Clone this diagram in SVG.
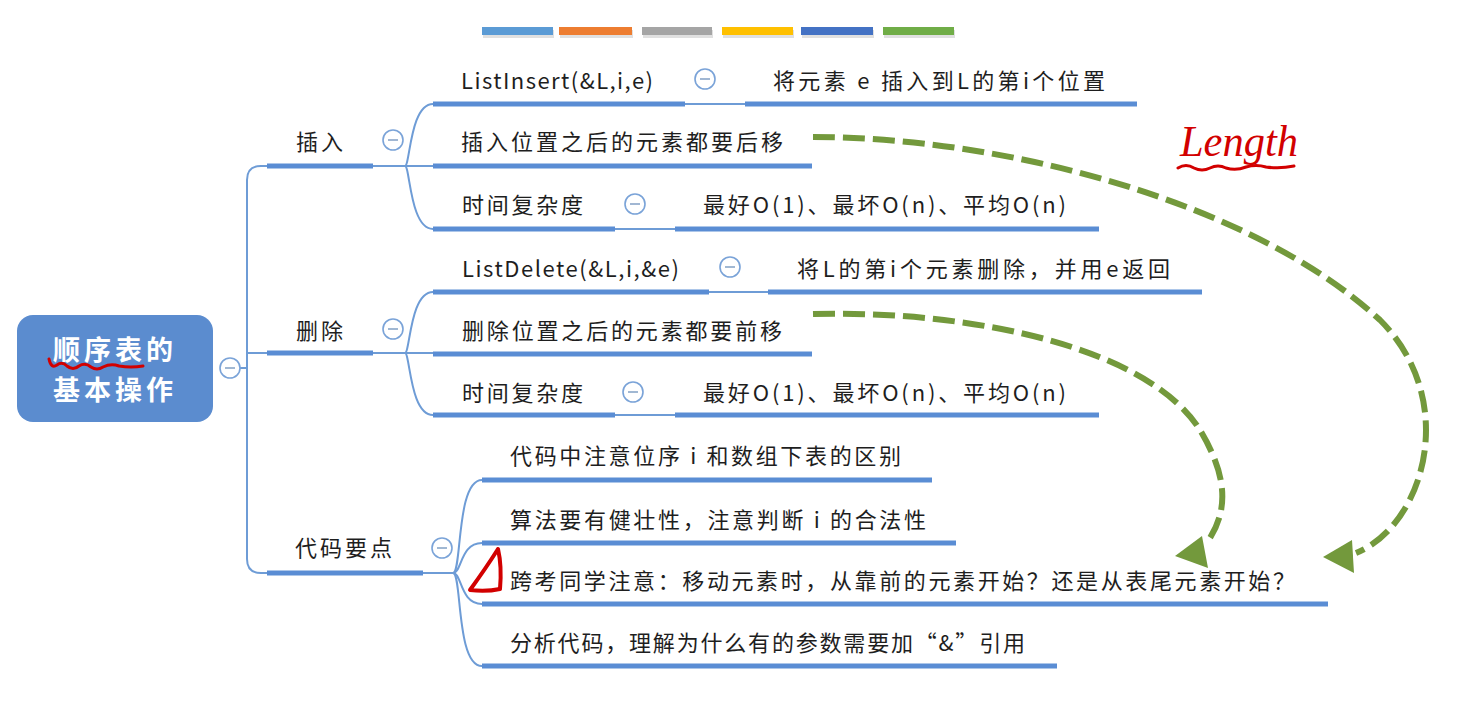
<svg xmlns="http://www.w3.org/2000/svg" width="1461" height="714" viewBox="0 0 1461 714">
<style>
.t{font-family:"Noto Sans CJK SC","Liberation Sans",sans-serif;font-size:22px;fill:#1e1e1e}
.ul{stroke:#5a8dd4;stroke-width:5;fill:none}
.cn{stroke:#6e9cd6;stroke-width:2;fill:none}
.cc{fill:#fff;stroke:#7aa3d8;stroke-width:1.6}
.cm{stroke:#8aa6c8;stroke-width:1.6}
.sh{fill:#000;opacity:0.12}
.ar{fill:none;stroke:#73993c;stroke-width:6;stroke-dasharray:22 8}
.ah{fill:#73993c}
.red{fill:none;stroke:#d20000;stroke-width:3;stroke-linecap:round;stroke-linejoin:round}
.rt{font-family:"Noto Sans CJK SC",sans-serif;font-size:27px;font-weight:bold;fill:#fff}
</style>
<rect width="1461" height="714" fill="#fff"/>
<g id="colorbar">
<rect class="sh" x="483" y="30" width="71" height="8"/>
<rect class="sh" x="560" y="30" width="73" height="8"/>
<rect class="sh" x="643" y="30" width="70" height="8"/>
<rect class="sh" x="723" y="30" width="71" height="8"/>
<rect class="sh" x="802" y="30" width="72" height="8"/>
<rect class="sh" x="884" y="30" width="71" height="8"/>
<rect x="482" y="27" width="71" height="8" fill="#5b9bd5"/>
<rect x="559" y="27" width="73" height="8" fill="#ed7d31"/>
<rect x="642" y="27" width="70" height="8" fill="#a5a5a5"/>
<rect x="722" y="27" width="71" height="8" fill="#ffc000"/>
<rect x="801" y="27" width="72" height="8" fill="#4472c4"/>
<rect x="883" y="27" width="71" height="8" fill="#70ad47"/>
</g>
<g id="connectors">
<path class="cn" d="M240,368 H247"/>
<path class="cn" d="M268,166 H261 Q247,166 247,180 V559 Q247,573 261,573 H268"/>
<path class="cn" d="M247,353 H268"/>
<path class="cn" d="M373,166 H405"/>
<path class="cn" d="M405,166 C410,166 410,104 433,104"/>
<path class="cn" d="M405,166 H433"/>
<path class="cn" d="M405,166 C410,166 410,229 433,229"/>
<path class="cn" d="M685,104 H745"/>
<path class="cn" d="M615,229 H675"/>
<path class="cn" d="M373,353 H405"/>
<path class="cn" d="M405,353 C410,353 410,292 433,292"/>
<path class="cn" d="M405,353 H433"/>
<path class="cn" d="M405,353 C410,353 410,415 433,415"/>
<path class="cn" d="M709,292 H768"/>
<path class="cn" d="M615,415 H675"/>
<path class="cn" d="M423,573 H453"/>
<path class="cn" d="M453,573 C462,573 456,480 482,480"/>
<path class="cn" d="M453,573 C462,573 460,543 482,543"/>
<path class="cn" d="M453,573 C462,573 460,604 482,604"/>
<path class="cn" d="M453,573 C462,573 456,666 482,666"/>
<path class="ar" d="M813,137 C1000,137 1250,200 1380,320 C1460,400 1425,525 1356,553"/>
<polygon class="ah" points="1323,557 1352,540 1354,573"/>
<path class="ar" d="M813,314 C980,310 1150,350 1200,430 C1230,480 1226,512 1210,538"/>
<polygon class="ah" points="1175,556 1202,536 1208,568"/>
</g>
<g id="root">
<rect x="17" y="315" width="196" height="107" rx="16" fill="#5b8ccf"/>
<text class="rt" x="113" y="360" text-anchor="middle" textLength="120" lengthAdjust="spacing">顺序表的</text>
<text class="rt" x="113" y="400" text-anchor="middle" textLength="120" lengthAdjust="spacing">基本操作</text>
<path class="red" d="M49,359 q2,10 8,6 q5,-4 10,1 q6,5 12,0 q6,-4 12,1 q6,4 12,0 q8,-4 16,-1 q12,2 24,0"/>
<circle class="cc" cx="230" cy="368" r="10"/><line class="cm" x1="225" y1="368" x2="235" y2="368"/>
</g>
<g id="n-insert">
<line class="ul" x1="267" y1="166" x2="373" y2="166"/>
<text class="t" x="296" y="150" textLength="47" lengthAdjust="spacing">插入</text>
<circle class="cc" cx="393" cy="140" r="10"/><line class="cm" x1="388" y1="140" x2="398" y2="140"/>
</g>
<g id="n-listinsert">
<line class="ul" x1="433" y1="104" x2="685" y2="104"/>
<text class="t" x="461" y="89" textLength="192" lengthAdjust="spacing">ListInsert(&amp;L,i,e)</text>
<circle class="cc" cx="705" cy="79" r="10"/><line class="cm" x1="700" y1="79" x2="710" y2="79"/>
</g>
<g id="n-insert-desc">
<line class="ul" x1="745" y1="104" x2="1137" y2="104"/>
<text class="t" x="773" y="89" textLength="332" lengthAdjust="spacing">将元素 e 插入到L的第i个位置</text>
</g>
<g id="n-insert-shift">
<line class="ul" x1="433" y1="166" x2="812" y2="166"/>
<text class="t" x="461" y="150" textLength="322" lengthAdjust="spacing">插入位置之后的元素都要后移</text>
</g>
<g id="n-insert-time">
<line class="ul" x1="433" y1="229" x2="615" y2="229"/>
<text class="t" x="462" y="213" textLength="121" lengthAdjust="spacing">时间复杂度</text>
<circle class="cc" cx="635" cy="204" r="10"/><line class="cm" x1="630" y1="204" x2="640" y2="204"/>
</g>
<g id="n-insert-time-val">
<line class="ul" x1="675" y1="229" x2="1099" y2="229"/>
<text class="t" x="703" y="213" textLength="363" lengthAdjust="spacing">最好O(1)、最坏O(n)、平均O(n)</text>
</g>
<g id="n-delete">
<line class="ul" x1="267" y1="353" x2="373" y2="353"/>
<text class="t" x="296" y="339" textLength="47" lengthAdjust="spacing">删除</text>
<circle class="cc" cx="393" cy="329" r="10"/><line class="cm" x1="388" y1="329" x2="398" y2="329"/>
</g>
<g id="n-listdelete">
<line class="ul" x1="433" y1="292" x2="709" y2="292"/>
<text class="t" x="462" y="277" textLength="217" lengthAdjust="spacing">ListDelete(&amp;L,i,&amp;e)</text>
<circle class="cc" cx="730" cy="267" r="10"/><line class="cm" x1="725" y1="267" x2="735" y2="267"/>
</g>
<g id="n-delete-desc">
<line class="ul" x1="768" y1="292" x2="1202" y2="292"/>
<text class="t" x="797" y="277" textLength="373" lengthAdjust="spacing">将L的第i个元素删除，并用e返回</text>
</g>
<g id="n-delete-shift">
<line class="ul" x1="433" y1="354" x2="812" y2="354"/>
<text class="t" x="462" y="339" textLength="320" lengthAdjust="spacing">删除位置之后的元素都要前移</text>
</g>
<g id="n-delete-time">
<line class="ul" x1="433" y1="415" x2="615" y2="415"/>
<text class="t" x="462" y="401" textLength="121" lengthAdjust="spacing">时间复杂度</text>
<circle class="cc" cx="633" cy="392" r="10"/><line class="cm" x1="628" y1="392" x2="638" y2="392"/>
</g>
<g id="n-delete-time-val">
<line class="ul" x1="675" y1="415" x2="1099" y2="415"/>
<text class="t" x="703" y="401" textLength="363" lengthAdjust="spacing">最好O(1)、最坏O(n)、平均O(n)</text>
</g>
<g id="n-code">
<line class="ul" x1="267" y1="573" x2="423" y2="573"/>
<text class="t" x="295" y="556" textLength="97" lengthAdjust="spacing">代码要点</text>
<circle class="cc" cx="442" cy="548" r="10"/><line class="cm" x1="437" y1="548" x2="447" y2="548"/>
</g>
<g id="n-code-1">
<line class="ul" x1="482" y1="480" x2="932" y2="480"/>
<text class="t" x="510" y="464" textLength="391" lengthAdjust="spacing">代码中注意位序 i 和数组下表的区别</text>
</g>
<g id="n-code-2">
<line class="ul" x1="482" y1="543" x2="956" y2="543"/>
<text class="t" x="510" y="528" textLength="416" lengthAdjust="spacing">算法要有健壮性，注意判断 i 的合法性</text>
</g>
<g id="n-code-3">
<line class="ul" x1="482" y1="604" x2="1328" y2="604"/>
<text class="t" x="510" y="589" textLength="785" lengthAdjust="spacing">跨考同学注意：移动元素时，从靠前的元素开始？还是从表尾元素开始？</text>
</g>
<g id="n-code-4">
<line class="ul" x1="482" y1="666" x2="1057" y2="666"/>
<text class="t" x="510" y="651" textLength="515" lengthAdjust="spacing">分析代码，理解为什么有的参数需要加“&amp;”引用</text>
</g>
<g id="annotations">
<path class="red" style="stroke-width:4" d="M498,549 Q486,568 470,590 Q486,592 500,589 Q502,566 498,549 Z"/>
<text x="1180" y="156" font-family="Liberation Serif,serif" font-style="italic" font-size="44" fill="#d20000" textLength="118" lengthAdjust="spacingAndGlyphs">Length</text>
<path class="red" d="M1178,168 q8,-5 16,0 q8,4 16,0 q8,-4 16,0 q10,3 20,-1 q10,-3 20,0 q14,2 28,-1"/>
</g>
</svg>
